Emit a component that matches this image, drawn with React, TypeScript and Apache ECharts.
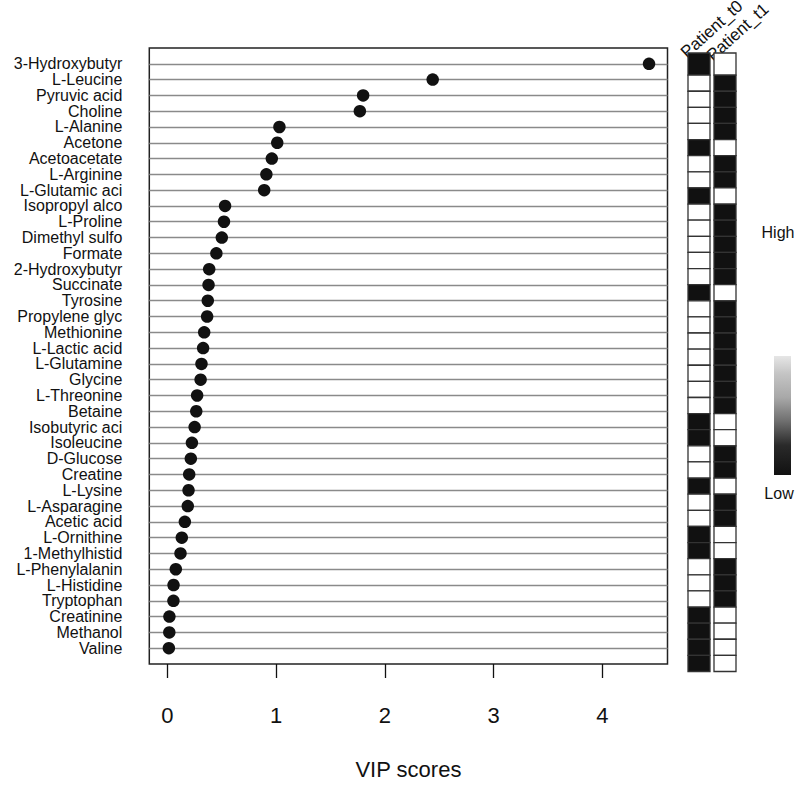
import React, { useEffect, useRef } from "react";
import * as echarts from "echarts";

const metabolites: string[] = [
  "3-Hydroxybutyr", "L-Leucine", "Pyruvic acid", "Choline", "L-Alanine", "Acetone",
  "Acetoacetate", "L-Arginine", "L-Glutamic aci", "Isopropyl alco", "L-Proline",
  "Dimethyl sulfo", "Formate", "2-Hydroxybutyr", "Succinate", "Tyrosine",
  "Propylene glyc", "Methionine", "L-Lactic acid", "L-Glutamine", "Glycine",
  "L-Threonine", "Betaine", "Isobutyric aci", "Isoleucine", "D-Glucose", "Creatine",
  "L-Lysine", "L-Asparagine", "Acetic acid", "L-Ornithine", "1-Methylhistid",
  "L-Phenylalanin", "L-Histidine", "Tryptophan", "Creatinine", "Methanol", "Valine",
];

const vipScores: number[] = [
  4.43, 2.44, 1.80, 1.77, 1.03, 1.01, 0.96, 0.91, 0.89, 0.53, 0.52, 0.50, 0.45,
  0.384, 0.378, 0.371, 0.365, 0.338, 0.328, 0.313, 0.305, 0.273, 0.265, 0.25,
  0.225, 0.215, 0.20, 0.194, 0.187, 0.16, 0.132, 0.12, 0.077, 0.056, 0.055,
  0.018, 0.017, 0.013,
];

const patients: string[] = ["Patient_t0", "Patient_t1"];

// 1 = high (black), 0 = low (white)
const patientT0: number[] = [
  1, 0, 0, 0, 0, 1, 0, 0, 1, 0, 0, 0, 0, 0, 1, 0, 0, 0, 0, 0, 0, 0, 1, 1, 0, 0, 1,
  0, 0, 1, 1, 0, 0, 0, 1, 1, 1, 1,
];
const patientT1: number[] = [
  0, 1, 1, 1, 1, 0, 1, 1, 0, 1, 1, 1, 1, 1, 0, 1, 1, 1, 1, 1, 1, 1, 0, 0, 1, 1, 0,
  1, 1, 0, 0, 1, 1, 1, 0, 0, 0, 0,
];

const xTicks: number[] = [0, 1, 2, 3, 4];
const legendLabels: string[] = ["High", "Low"];

const FONT = "'Liberation Sans', Arial, Helvetica, sans-serif";

export default function App() {
  const ref = useRef<HTMLDivElement>(null);

  useEffect(() => {
    if (!ref.current) return;
    const chart = echarts.init(ref.current, undefined, { renderer: "svg" });
    const n = metabolites.length;

    const dotData = vipScores.map((v, i) => [v, n - i]);
    const heatData: number[][] = [];
    [patientT0, patientT1].forEach((col, c) => {
      col.forEach((v, r) => heatData.push([c, r, v]));
    });

    const option: any = {
      animation: false,
      backgroundColor: "#ffffff",
      textStyle: { fontFamily: FONT },
      grid: [
        {
          left: 149.3, top: 48, width: 518.2, height: 628,
          show: true, borderColor: "#222", borderWidth: 1.5,
          backgroundColor: "transparent",
        },
        { left: 686, top: 59, width: 52, height: 612.5 },
      ],
      xAxis: [
        {
          gridIndex: 0, type: "value", min: -0.167, max: 4.6,
          axisLine: { show: false },
          splitLine: { show: false },
          axisTick: {
            show: true, length: 14, inside: false, customValues: xTicks,
            lineStyle: { color: "#111", width: 1.3 },
          },
          axisLabel: {
            customValues: xTicks, fontSize: 22, color: "#111", margin: 40,
            fontFamily: FONT,
          },
          name: "VIP scores", nameLocation: "middle", nameGap: 94,
          nameTextStyle: { fontSize: 22, color: "#111", fontFamily: FONT },
        },
        {
          gridIndex: 1, type: "category", data: patients, show: false,
          boundaryGap: true,
        },
      ],
      yAxis: [
        {
          gridIndex: 0, type: "value", min: 0, max: n + 1, interval: 1,
          axisLine: { show: false },
          axisTick: { show: false },
          splitLine: {
            show: true, showMinLine: false, showMaxLine: false,
            lineStyle: { color: "#8a8a8a", width: 1.3 },
          },
          axisLabel: {
            fontSize: 16, lineHeight: 16, color: "#111", margin: 27, fontFamily: FONT,
            showMinLabel: false, showMaxLabel: false,
            formatter: (v: number) => {
              const idx = n - v;
              return idx >= 0 && idx < n && Number.isInteger(v) ? metabolites[idx] : "";
            },
          },
        },
        {
          gridIndex: 1, type: "category", data: metabolites, inverse: true,
          show: false, boundaryGap: true,
        },
      ],
      series: [
        {
          type: "scatter", xAxisIndex: 0, yAxisIndex: 0, data: dotData,
          symbol: "circle", symbolSize: 12.5,
          itemStyle: { color: "#111", opacity: 1 }, z: 5,
        },
        {
          type: "custom", xAxisIndex: 1, yAxisIndex: 1, data: heatData,
          encode: { x: 0, y: 1 },
          renderItem: (_params: any, api: any) => {
            const c = api.coord([api.value(0), api.value(1)]);
            const s = api.size([1, 1]);
            const row = api.value(1);
            const extra = row === 0 ? 6 : 0;
            return {
              type: "rect",
              shape: {
                x: c[0] - 11,
                y: c[1] - s[1] / 2 - extra,
                width: 22,
                height: s[1] + extra,
              },
              style: {
                fill: api.value(2) ? "#111" : "#ffffff",
                stroke: "#333",
                lineWidth: 1.3,
              },
            };
          },
        },
      ],
      graphic: [
        {
          type: "text", x: 689, y: 61, rotation: (42 * Math.PI) / 180,
          style: {
            text: patients[0], fontSize: 17, fontFamily: FONT, fill: "#111",
            textAlign: "left", textVerticalAlign: "bottom",
          },
        },
        {
          type: "text", x: 715, y: 64, rotation: (42 * Math.PI) / 180,
          style: {
            text: patients[1], fontSize: 17, fontFamily: FONT, fill: "#111",
            textAlign: "left", textVerticalAlign: "bottom",
          },
        },
        {
          type: "text", x: 778, y: 232,
          style: {
            text: legendLabels[0], fontSize: 16, fontFamily: FONT, fill: "#111",
            textAlign: "center", textVerticalAlign: "middle",
          },
        },
        {
          type: "text", x: 779, y: 493,
          style: {
            text: legendLabels[1], fontSize: 16, fontFamily: FONT, fill: "#111",
            textAlign: "center", textVerticalAlign: "middle",
          },
        },
        {
          type: "rect",
          shape: { x: 774, y: 356, width: 17, height: 119 },
          style: {
            fill: new echarts.graphic.LinearGradient(0, 0, 0, 1, [
              { offset: 0, color: "#e6e6e6" },
              { offset: 0.15, color: "#c4c4c4" },
              { offset: 0.35, color: "#a8a8a8" },
              { offset: 0.55, color: "#6e6e6e" },
              { offset: 0.75, color: "#2a2a2a" },
              { offset: 1, color: "#111111" },
            ]),
          },
        },
      ],
    };

    chart.setOption(option);
    return () => chart.dispose();
  }, []);

  return (
    <div
      ref={ref}
      style={{ position: "fixed", left: 0, top: 0, width: 800, height: 785, background: "#fff" }}
    />
  );
}
